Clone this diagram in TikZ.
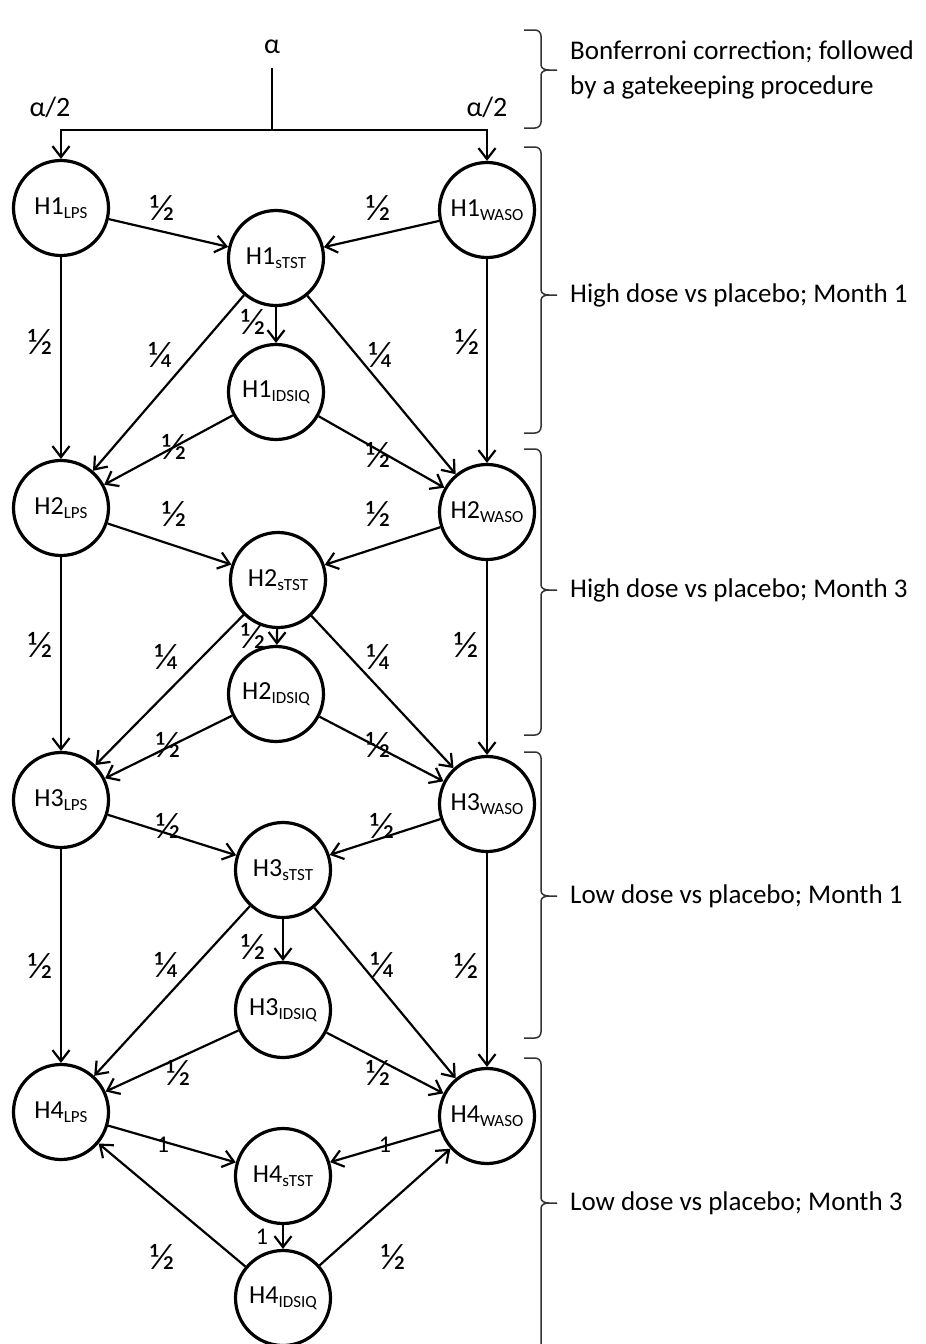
\documentclass[tikz,border=0pt]{standalone}
\usepackage{fontspec}
\setmainfont{Carlito}
\usetikzlibrary{arrows.meta}
\newcommand\hsub[1]{\raisebox{-0.35ex}{\fontsize{17}{17}\selectfont #1}}
\begin{document}
\begin{tikzpicture}[x=1pt,y=-1pt,
  hyp/.style={circle,draw,line width=3.2pt,minimum size=95pt,inner sep=0pt,font=\fontsize{26}{26}\selectfont},
  edge/.style={line width=2.2pt,-{Straight Barb[length=11pt,width=17pt]}},
  plain/.style={line width=2.2pt},
  wlab/.style={font=\fontsize{37}{37}\selectfont,inner sep=0pt},
  alab/.style={font=\fontsize{28}{28}\selectfont,inner sep=0pt},
  onelab/.style={font=\fontsize{24}{24}\selectfont,inner sep=0pt},
  brace/.style={line width=1.5pt,black!80},
  side/.style={anchor=west,font=\fontsize{27}{27}\selectfont,inner sep=0pt}]
\useasboundingbox (0,0) rectangle (926,1344);

% hypotheses
\node[hyp] (L1) at (61,208) {H1\hsub{LPS}};
\node[hyp] (W1) at (487,210) {H1\hsub{WASO}};
\node[hyp] (S1) at (276,258) {H1\hsub{sTST}};
\node[hyp] (I1) at (276,392) {H1\hsub{IDSIQ}};
\node[hyp] (L2) at (61,508) {H2\hsub{LPS}};
\node[hyp] (W2) at (487,512) {H2\hsub{WASO}};
\node[hyp] (S2) at (278,580) {H2\hsub{sTST}};
\node[hyp] (I2) at (276,694) {H2\hsub{IDSIQ}};
\node[hyp] (L3) at (61,800) {H3\hsub{LPS}};
\node[hyp] (W3) at (487,804) {H3\hsub{WASO}};
\node[hyp] (S3) at (283,870) {H3\hsub{sTST}};
\node[hyp] (I3) at (283,1010) {H3\hsub{IDSIQ}};
\node[hyp] (L4) at (61,1112) {H4\hsub{LPS}};
\node[hyp] (W4) at (487,1116) {H4\hsub{WASO}};
\node[hyp] (S4) at (283,1176) {H4\hsub{sTST}};
\node[hyp] (I4) at (283,1298) {H4\hsub{IDSIQ}};

% alpha split
\node[alab] (alpha) at (272,47) {α};
\node[alab] (aL) at (50,107) {α/2};
\node[alab] (aR) at (487,107) {α/2};
\coordinate (top) at (272,68);
\coordinate (split) at (272,130);
\draw[plain] (top) -- (split);
\draw[edge] (split) -| (L1);
\draw[edge] (split) -| (W1);

% blocks 1-3
\foreach \k/\n in {1/2,2/3,3/4}{
  \draw[edge] (L\k) -- (S\k);
  \draw[edge] (W\k) -- (S\k);
  \draw[edge] (L\k) -- (L\n);
  \draw[edge] (W\k) -- (W\n);
  \draw[edge] (S\k) -- (I\k);
  \draw[edge] (S\k) -- (L\n);
  \draw[edge] (S\k) -- (W\n);
  \draw[edge] (I\k) -- (L\n);
  \draw[edge] (I\k) -- (W\n);
}
% block 4
\draw[edge] (L4) -- (S4);
\draw[edge] (W4) -- (S4);
\draw[edge] (S4) -- (I4);
\draw[edge] (I4) -- (L4);
\draw[edge] (I4) -- (W4);

% weights block 1
\node[wlab] at (162,208) {½};
\node[wlab] at (378,208) {½};
\node[wlab] at (40,342) {½};
\node[wlab] at (467,342) {½};
\node[wlab] at (253,322) {½};
\node[wlab] at (160,355) {¼};
\node[wlab] at (380,355) {¼};
\node[wlab] at (174,447) {½};
\node[wlab] at (378,455) {½};
% weights block 2
\node[wlab] at (174,514) {½};
\node[wlab] at (378,514) {½};
\node[wlab] at (40,645) {½};
\node[wlab] at (466,645) {½};
\node[wlab] at (253,636) {½};
\node[wlab] at (166,657) {¼};
\node[wlab] at (378,657) {¼};
\node[wlab] at (168,745) {½};
\node[wlab] at (378,745) {½};
% weights block 3
\node[wlab] at (168,826) {½};
\node[wlab] at (382,826) {½};
\node[wlab] at (40,966) {½};
\node[wlab] at (466,966) {½};
\node[wlab] at (253,947) {½};
\node[wlab] at (166,965) {¼};
\node[wlab] at (382,965) {¼};
\node[wlab] at (178,1073) {½};
\node[wlab] at (378,1073) {½};
% weights block 4
\node[onelab] at (163,1145) {1};
\node[onelab] at (385,1145) {1};
\node[onelab] at (262,1237) {1};
\node[wlab] at (162,1257) {½};
\node[wlab] at (393,1257) {½};

% braces
\foreach \a/\m/\b in {30/70/128,147/295/433,449/590/735,752/896/1038,1058/1203/1400}{
  \draw[brace] (524,\a) -- (535,\a) to[out=0,in=90] (541,\a+6) -- (541,\m-5)
     to[out=-90,in=180] (549,\m) -- (557,\m);
  \draw[brace] (549,\m) to[out=180,in=90] (541,\m+5) -- (541,\b-6)
     to[out=-90,in=0] (535,\b) -- (524,\b);
}
\node[side] (t1) at (570,52) {Bonferroni correction; followed};
\node[side] (t1b) at (570,87) {by a gatekeeping procedure};
\node[side] (t2) at (570,295) {High dose vs placebo; Month 1};
\node[side] (t3) at (570,590) {High dose vs placebo; Month 3};
\node[side] (t4) at (570,896) {Low dose vs placebo; Month 1};
\node[side] (t5) at (570,1203) {Low dose vs placebo; Month 3};
\end{tikzpicture}
\end{document}
